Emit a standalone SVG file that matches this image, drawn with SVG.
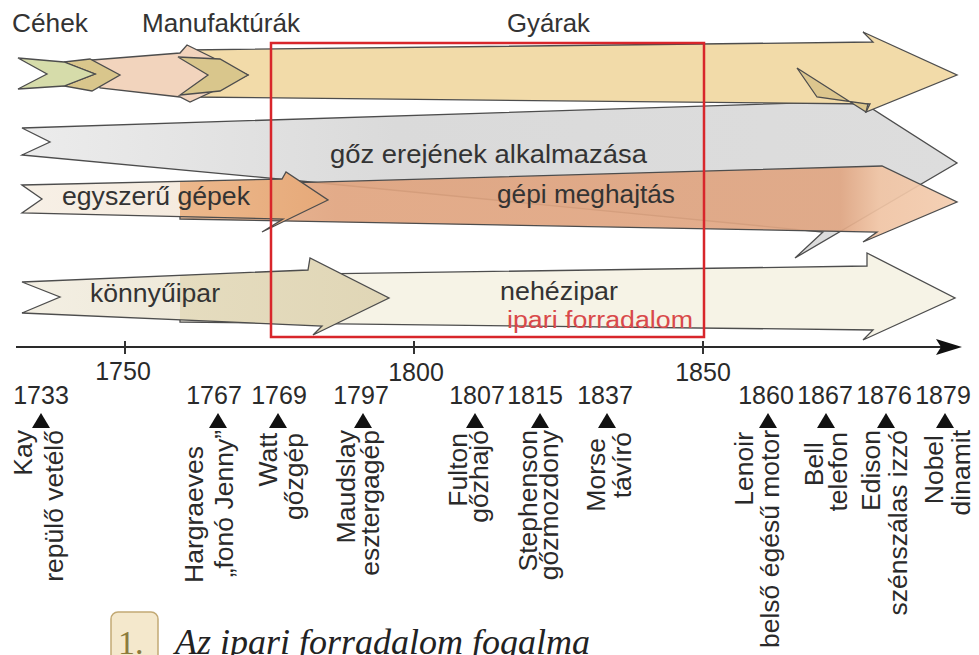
<svg xmlns="http://www.w3.org/2000/svg" width="979" height="655" viewBox="0 0 979 655">
<defs>
<style>
.ar{stroke:#4d4d4d;stroke-width:1.3;stroke-linejoin:miter}
.lbl{font-family:"Liberation Sans",Arial,sans-serif;font-size:25px;fill:#333}
.yr{font-family:"Liberation Sans",Arial,sans-serif;font-size:25px;fill:#2a2a2a;text-anchor:middle}
.rot{font-family:"Liberation Sans",Arial,sans-serif;font-size:26.5px;fill:#2a2a2a;text-anchor:end}
.tri{fill:#111}
.tick{stroke:#333;stroke-width:2}
</style>
<linearGradient id="gGray" gradientUnits="userSpaceOnUse" x1="22" y1="0" x2="957" y2="0">
<stop offset="0" stop-color="#ececec"/><stop offset="0.4" stop-color="#dadada"/><stop offset="1" stop-color="#dddddd"/>
</linearGradient>
<linearGradient id="gEgy" gradientUnits="userSpaceOnUse" x1="22" y1="0" x2="330" y2="0">
<stop offset="0" stop-color="#f7f0e6"/><stop offset="0.513" stop-color="#f5ebdf"/><stop offset="0.513" stop-color="#ecb88c"/><stop offset="1" stop-color="#e6a979"/>
</linearGradient>
<linearGradient id="gKon" gradientUnits="userSpaceOnUse" x1="22" y1="0" x2="390" y2="0">
<stop offset="0" stop-color="#f3efe3"/><stop offset="0.43" stop-color="#efe9da"/><stop offset="0.43" stop-color="#e5dcbf"/><stop offset="1" stop-color="#e0d6b6"/>
</linearGradient>
<linearGradient id="gGepi" gradientUnits="userSpaceOnUse" x1="180" y1="0" x2="957" y2="0">
<stop offset="0" stop-color="#eab78f"/><stop offset="0.2" stop-color="#e0a47f"/><stop offset="0.85" stop-color="#e0a683"/><stop offset="0.9" stop-color="#f0c4a4"/><stop offset="1" stop-color="#f3ccae"/>
</linearGradient>
</defs>
<rect width="979" height="655" fill="#ffffff"/>

<g id="goz-arrow">
<polygon class="ar" fill="url(#gGray)" points="22,128 860,101 957,163 795,258 823,232 300,181 22,155 50,142"/>
<text class="lbl" x="330" y="163" textLength="317" lengthAdjust="spacingAndGlyphs">gőz erejének alkalmazása</text>
</g>

<g id="gyarak-arrow">
<polygon class="ar" fill="#f2dba9" points="187,50 873,42 863,32 957,75 866,112 870,104 187,97"/>
<polygon class="ar" fill="#dcc68e" points="797,68 817,97 868,104 866,112"/>
</g>

<g id="manufakturak-arrow">
<polygon class="ar" fill="#f2d4bd" points="92,60 180,53 187,45 248,75 190,102 180,97 100,88"/>
<polygon class="ar" fill="#d9c68c" points="178,57 220,59 248,75 220,91 180,95 208,75"/>
</g>

<g id="cehek-arrow">
<polygon class="ar" fill="#d9c68c" points="64,62 90,59 120,75 92,91 64,86 95,74"/>
<polygon class="ar" fill="#d6dcaa" points="18,58 64,62 95,74 64,86 18,89 47,74"/>
</g>

<g id="gepi-arrow">
<polygon class="ar" fill="url(#gGepi)" fill-opacity="0.92" points="180,186 882,166 957,202 863,242 877,232 180,219"/>
<text class="lbl" x="497" y="203" textLength="178" lengthAdjust="spacingAndGlyphs">gépi meghajtás</text>
</g>

<g id="egyszeru-arrow">
<polygon class="ar" fill="url(#gEgy)" points="22,185 282,179 286,172 328,200 262,232 283,219 22,213 42,199"/>
<text class="lbl" x="62" y="205" textLength="188" lengthAdjust="spacingAndGlyphs">egyszerű gépek</text>
</g>

<g id="nehezipar-arrow">
<polygon class="ar" fill="#f6f3e6" points="180,276 867,266 867,253 955,298 863,340 873,330 180,322"/>
<text class="lbl" x="500" y="300" textLength="118" lengthAdjust="spacingAndGlyphs">nehézipar</text>
</g>

<g id="konnyuipar-arrow">
<polygon class="ar" fill="url(#gKon)" points="22,282 308,270 310,258 389,298 313,335 322,326 22,313 60,297"/>
<text class="lbl" x="90" y="302" textLength="130" lengthAdjust="spacingAndGlyphs">könnyűipar</text>
</g>

<g id="ipari-forradalom">
<rect x="271" y="43" width="433" height="294" fill="none" stroke="#d8262b" stroke-width="2.5"/>
<text x="507" y="328" font-family="Liberation Sans, Arial, sans-serif" font-size="23" fill="#d9494a" textLength="186" lengthAdjust="spacingAndGlyphs">ipari forradalom</text>
</g>

<g id="stage-labels">
<text class="lbl" x="12" y="32" textLength="76" lengthAdjust="spacingAndGlyphs">Céhek</text>
<text class="lbl" x="142" y="32" textLength="158" lengthAdjust="spacingAndGlyphs">Manufaktúrák</text>
<text class="lbl" x="507" y="32" textLength="83" lengthAdjust="spacingAndGlyphs">Gyárak</text>
</g>

<g id="connectors">
<line x1="16" y1="347" x2="942" y2="347" stroke="#2a2a2a" stroke-width="2"/>
<polygon points="936,339 962,347 936,355 941,347" fill="#111"/>
<line class="tick" x1="125" y1="341" x2="125" y2="354"/>
<line class="tick" x1="414" y1="341" x2="414" y2="354"/>
<line class="tick" x1="703" y1="341" x2="703" y2="354"/>
</g>

<g id="axis-years">
<text class="yr" x="123" y="380">1750</text>
<text class="yr" x="416" y="381">1800</text>
<text class="yr" x="703" y="381">1850</text>
</g>

<g id="ev-1733">
<text class="yr" x="41" y="404">1733</text>
<polygon class="tri" points="32,428 41,413 50,428"/>
<text class="rot" transform="translate(32,430) rotate(-90)">Kay</text>
<text class="rot" transform="translate(63,430) rotate(-90)">repülő vetélő</text>
</g>
<g id="ev-1767">
<text class="yr" x="214" y="404">1767</text>
<polygon class="tri" points="209,428 218,413 227,428"/>
<text class="rot" transform="translate(203,446) rotate(-90)">Hargraeves</text>
<text class="rot" transform="translate(233,430) rotate(-90)">„fonó Jenny”</text>
</g>
<g id="ev-1769">
<text class="yr" x="279" y="404">1769</text>
<polygon class="tri" points="269,428 278,413 287,428"/>
<text class="rot" transform="translate(277,433) rotate(-90)">Watt</text>
<text class="rot" transform="translate(303,433) rotate(-90)">gőzgép</text>
</g>
<g id="ev-1797">
<text class="yr" x="361" y="404">1797</text>
<polygon class="tri" points="354,428 363,413 372,428"/>
<text class="rot" transform="translate(355,430) rotate(-90)">Maudslay</text>
<text class="rot" transform="translate(379,430) rotate(-90)">esztergagép</text>
</g>
<g id="ev-1807">
<text class="yr" x="477" y="404">1807</text>
<polygon class="tri" points="466,428 475,413 484,428"/>
<text class="rot" transform="translate(467,433) rotate(-90)">Fulton</text>
<text class="rot" transform="translate(488,430) rotate(-90)">gőzhajó</text>
</g>
<g id="ev-1815">
<text class="yr" x="535" y="404">1815</text>
<polygon class="tri" points="531,428 540,413 549,428"/>
<text class="rot" transform="translate(537,430) rotate(-90)">Stephenson</text>
<text class="rot" transform="translate(558,430) rotate(-90)">gőzmozdony</text>
</g>
<g id="ev-1837">
<text class="yr" x="605" y="404">1837</text>
<polygon class="tri" points="598,428 607,413 616,428"/>
<text class="rot" transform="translate(605,438) rotate(-90)">Morse</text>
<text class="rot" transform="translate(631,432) rotate(-90)">távíró</text>
</g>
<g id="ev-1860">
<text class="yr" x="766" y="404">1860</text>
<polygon class="tri" points="759,428 768,413 777,428"/>
<text class="rot" transform="translate(753,432) rotate(-90)">Lenoir</text>
<text class="rot" transform="translate(779,430) rotate(-90)">belső égésű motor</text>
</g>
<g id="ev-1867">
<text class="yr" x="825" y="404">1867</text>
<polygon class="tri" points="817,428 826,413 835,428"/>
<text class="rot" transform="translate(823,442) rotate(-90)">Bell</text>
<text class="rot" transform="translate(847,432) rotate(-90)">telefon</text>
</g>
<g id="ev-1876">
<text class="yr" x="884" y="404">1876</text>
<polygon class="tri" points="877,428 886,413 895,428"/>
<text class="rot" transform="translate(880,430) rotate(-90)">Edison</text>
<text class="rot" transform="translate(907,430) rotate(-90)">szénszálas izzó</text>
</g>
<g id="ev-1879">
<text class="yr" x="943" y="404">1879</text>
<polygon class="tri" points="936,428 945,413 954,428"/>
<text class="rot" transform="translate(943,435) rotate(-90)">Nobel</text>
<text class="rot" transform="translate(970,430) rotate(-90)">dinamit</text>
</g>

<g id="caption">
<rect x="111" y="612" width="47" height="52" rx="7" fill="#f4e8cc" stroke="#c2a974" stroke-width="1.5"/>
<text x="118" y="654" font-family="Liberation Serif, Times New Roman, serif" font-size="34" fill="#8c7b3c">1.</text>
<text x="175" y="654" font-family="Liberation Serif, Times New Roman, serif" font-size="36" font-style="italic" fill="#222">Az ipari forradalom fogalma</text>
</g>
</svg>
